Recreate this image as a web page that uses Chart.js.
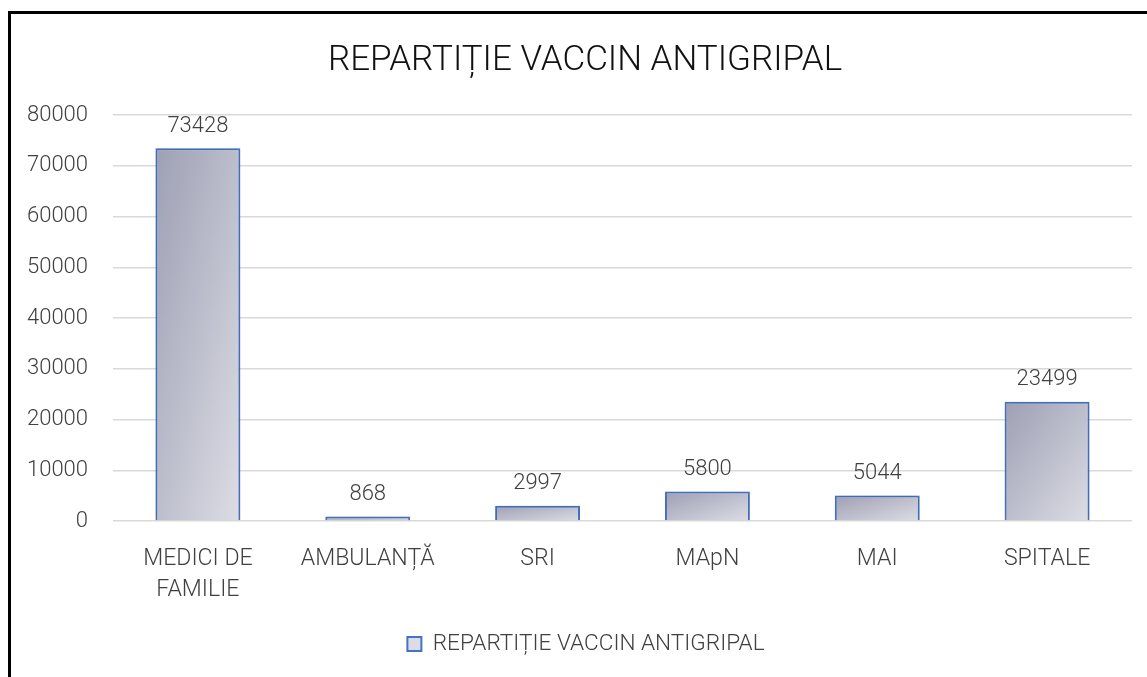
<!DOCTYPE html>
<html>
<head>
<meta charset="utf-8">
<script src="https://cdn.jsdelivr.net/npm/chart.js@4.4.1/dist/chart.umd.min.js"></script>
<style>
  html, body { margin:0; padding:0; background:#fff; }
  #wrap { position:relative; width:1147px; height:677px; overflow:hidden; }
  #frame { position:absolute; left:8px; top:11px; width:1200px; height:700px;
           border-left:3px solid #000; border-top:3px solid #000; pointer-events:none; }
  canvas { position:absolute; left:0; top:0; }
</style>
</head>
<body>
<div id="wrap">
  <canvas id="chart" width="1147" height="677"></canvas>
  <div id="frame"></div>
</div>
<script>
const title = 'REPARTIȚIE VACCIN ANTIGRIPAL';
const categories = [['MEDICI DE', 'FAMILIE'], 'AMBULANȚĂ', 'SRI', 'MApN', 'MAI', 'SPITALE'];
const values = [73428, 868, 2997, 5800, 5044, 23499];
const yMax = 80000;
const yStep = 10000;

const FONT = "Roboto, 'Open Sans', sans-serif";
const WEIGHT = 300;
const BAR_PCT = 0.5;
const FALLBACK = '#bfc1cf';

// gradient runs corner to corner in the bar's own box (dark top-left, light bottom-right)
function boxGradient(c, x0, y0, w, h){
  const t = (2 * w * h) / (w * w + h * h);
  const g = c.createLinearGradient(x0, y0, x0 + t * h, y0 + t * w);
  g.addColorStop(0, '#9d9fb4');
  g.addColorStop(1, '#dcdde4');
  return g;
}

function barFill(ctx){
  const chart = ctx.chart;
  const xs = chart.scales.x, ys = chart.scales.y;
  if (ctx.type !== 'data' || !xs || !ys) return FALLBACK;
  const x = xs.getPixelForValue(ctx.dataIndex);
  const top = ys.getPixelForValue(values[ctx.dataIndex]);
  const bottom = ys.getPixelForValue(0);
  const w = xs.width / categories.length * BAR_PCT;
  if (![x, top, bottom, w].every(Number.isFinite) || w <= 0) return FALLBACK;
  return boxGradient(chart.ctx, x - w / 2, top, w, Math.max(bottom - top, 1));
}

// title drawn by hand so it can sit where the original has it
const chartTitle = {
  id: 'chartTitle',
  afterDraw(chart){
    const c = chart.ctx;
    c.save();
    c.font = WEIGHT + ' 35px ' + FONT;
    c.fillStyle = '#111';
    c.textAlign = 'center';
    c.textBaseline = 'middle';
    c.fillText(title, 585, 61);
    c.restore();
  }
};

// nudge the legend a bit right, like in the original
const legendShift = {
  id: 'legendShift',
  afterLayout(chart){
    if (chart.legend) chart.legend.left += 40;
  }
};

const valueLabels = {
  id: 'valueLabels',
  afterDatasetsDraw(chart){
    const c = chart.ctx;
    const meta = chart.getDatasetMeta(0);
    c.save();
    c.font = WEIGHT + ' 22px ' + FONT;
    c.fillStyle = '#404040';
    c.textAlign = 'center';
    c.textBaseline = 'bottom';
    meta.data.forEach((bar, i)=>{
      c.fillText(values[i], bar.x, bar.y - 11);
    });
    c.restore();
  }
};

const barShadow = {
  id: 'barShadow',
  beforeDatasetDraw(chart){
    const c = chart.ctx;
    c.save();
    c.shadowColor = 'rgba(0,0,0,0.18)';
    c.shadowBlur = 5;
  },
  afterDatasetDraw(chart){
    chart.ctx.restore();
  }
};

new Chart(document.getElementById('chart').getContext('2d'), {
  type: 'bar',
  data: {
    labels: categories,
    datasets: [{
      label: title,
      data: values,
      backgroundColor: barFill,
      borderColor: '#4472c4',
      borderWidth: 2,
      barPercentage: BAR_PCT,
      categoryPercentage: 1
    }]
  },
  options: {
    responsive: false,
    animation: false,
    layout: { padding: { left: 0, right: 15, top: 115, bottom: 11.7 } },
    plugins: {
      title: { display: false },
      legend: {
        position: 'bottom',
        labels: {
          color: '#404040',
          font: { family: FONT, size: 22.6, weight: WEIGHT },
          boxWidth: 14,
          boxHeight: 14,
          padding: 10,
          generateLabels(chart){
            return [{
              text: title,
              fillStyle: boxGradient(chart.ctx, 0, 0, 14, 14),
              strokeStyle: '#4472c4',
              lineWidth: 2,
              fontColor: '#404040',
              datasetIndex: 0,
              hidden: false
            }];
          }
        }
      },
      tooltip: { enabled: false }
    },
    scales: {
      x: {
        grid: { display: false },
        border: { display: false },
        ticks: {
          color: '#404040',
          font: { family: FONT, size: 23.1, weight: WEIGHT, lineHeight: 1.34 },
          padding: 15,
          maxRotation: 0,
          autoSkip: false
        },
        afterFit: s => { s.height = 101.7; }
      },
      y: {
        min: 0,
        max: yMax,
        grid: { color: '#d9d9d9', lineWidth: 1.5, drawTicks: false },
        border: { display: false },
        ticks: {
          stepSize: yStep,
          color: '#404040',
          font: { family: FONT, size: 22, weight: WEIGHT },
          padding: 25,
          callback: v => String(v)
        },
        afterFit: s => { s.width = 113; }
      }
    }
  },
  plugins: [barShadow, valueLabels, chartTitle, legendShift]
});
</script>
</body>
</html>
